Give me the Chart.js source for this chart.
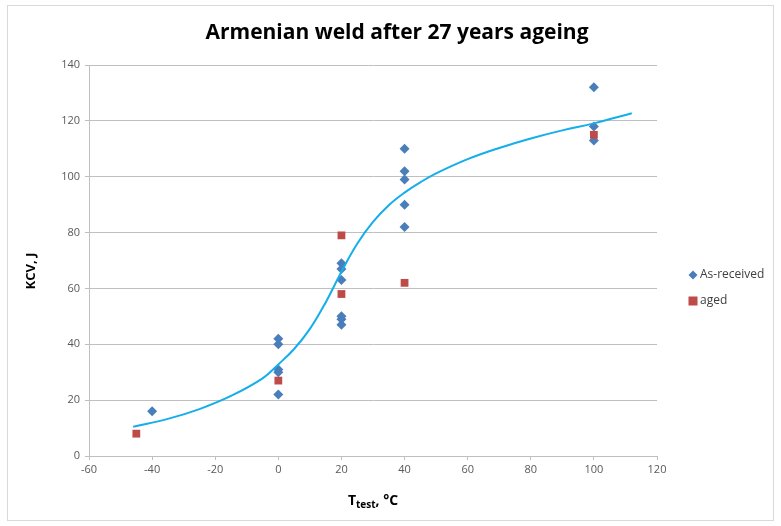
<!DOCTYPE html>
<html>
<head>
<meta charset="utf-8">
<script src="https://cdn.jsdelivr.net/npm/chart.js@4/dist/chart.umd.min.js"></script>
<style>
  html, body { margin: 0; padding: 0; background: #ffffff; }
  #wrap { width: 781px; height: 526px; }
</style>
</head>
<body>
<div id="wrap"><canvas id="c" width="781" height="526"></canvas></div>
<script>
// Charpy impact energy of the weld metal versus test temperature
const asReceivedT   = [-40, 0, 0, 0, 0, 0, 20, 20, 20, 20, 20, 20, 40, 40, 40, 40, 40, 100, 100, 100];
const asReceivedKCV = [16, 42, 40, 31, 30, 22, 69, 67, 63, 50, 49, 47, 110, 102, 99, 90, 82, 132, 118, 113];

const agedT   = [-45, 0, 20, 20, 40, 100];
const agedKCV = [8, 27, 79, 58, 62, 115];

// Transition curve fitted through both data sets
const curveT   = [-46, -35, -25, -15, -5, 0, 5, 10, 15, 20, 25, 30, 35, 40, 45, 50, 60, 70, 80, 90, 100, 112];
const curveKCV = [10.5, 13.3, 16.8, 21.5, 27.8, 32.8, 38.3, 45.5, 55, 66, 76, 83.8, 89.8, 94.3, 98, 101.2, 106.3, 110.3, 113.7, 116.6, 119.1, 122.7];

const xTicks = [-60, -40, -20, 0, 20, 40, 60, 80, 100, 120];
const yTicks = [0, 20, 40, 60, 80, 100, 120, 140];

const seriesNames = ['As-received', 'aged'];
const blue = '#4a7ebb';
const red = '#be4b48';
const curveColor = '#14aeea';

const toPts = (xs, ys) => xs.map((x, i) => ({ x: x, y: ys[i] }));

const FONT = "'Open Sans', 'Liberation Sans', sans-serif";

// Frame, title, legend and axis titles
const decor = {
  id: 'decor',
  beforeDraw(chart) {
    const ctx = chart.ctx;
    ctx.save();
    ctx.fillStyle = '#ffffff';
    ctx.fillRect(0, 0, chart.width, chart.height);
    ctx.strokeStyle = '#d9d9d9';
    ctx.lineWidth = 1;
    ctx.strokeRect(7.5, 5.5, 766, 515);
    ctx.restore();
  },
  afterDraw(chart) {
    const ctx = chart.ctx;
    const area = chart.chartArea;
    ctx.save();
    // title
    ctx.fillStyle = '#000000';
    ctx.font = "bold 21px " + FONT;
    ctx.textAlign = 'center';
    ctx.textBaseline = 'middle';
    ctx.fillText('Armenian weld after 27 years ageing', 397, 33);

    // y axis title
    ctx.save();
    ctx.translate(31, 271);
    ctx.rotate(-Math.PI / 2);
    ctx.font = "bold 13px " + FONT;
    ctx.fillText('KCV, J', 0, 0);
    ctx.restore();

    // x axis title with subscript
    ctx.textAlign = 'left';
    ctx.textBaseline = 'alphabetic';
    const mainFont = "bold 14px " + FONT;
    const subFont = "bold 10px " + FONT;
    ctx.font = mainFont;
    const wT = ctx.measureText('T').width;
    ctx.font = subFont;
    const wSub = ctx.measureText('test').width;
    ctx.font = mainFont;
    const wRest = ctx.measureText(', °C').width;
    const total = wT + wSub + wRest;
    let x0 = (area.left + area.right) / 2 - total / 2;
    const base = 505;
    ctx.fillText('T', x0, base);
    ctx.font = subFont;
    ctx.fillText('test', x0 + wT, base + 3);
    ctx.font = mainFont;
    ctx.fillText(', °C', x0 + wT + wSub, base);

    // legend
    const items = [
      { text: seriesNames[0], color: blue, shape: 'diamond', y: 275 },
      { text: seriesNames[1], color: red, shape: 'square', y: 301 }
    ];
    ctx.font = "12px " + FONT;
    ctx.textBaseline = 'middle';
    items.forEach(it => {
      ctx.fillStyle = it.color;
      const cx = 693;
      if (it.shape === 'diamond') {
        ctx.beginPath();
        ctx.moveTo(cx, it.y - 4.5);
        ctx.lineTo(cx + 4.5, it.y);
        ctx.lineTo(cx, it.y + 4.5);
        ctx.lineTo(cx - 4.5, it.y);
        ctx.closePath();
        ctx.fill();
      } else {
        ctx.fillRect(cx - 4.5, it.y - 4.5, 9, 9);
      }
      ctx.fillStyle = '#404040';
      ctx.fillText(it.text, 700, it.y);
    });
    ctx.restore();
  }
};

new Chart(document.getElementById('c'), {
  type: 'scatter',
  data: {
    datasets: [
      {
        type: 'line',
        label: 'fit',
        data: toPts(curveT, curveKCV),
        borderColor: curveColor,
        borderWidth: 2,
        pointRadius: 0,
        fill: false,
        tension: 0.4,
        order: 0
      },
      {
        label: seriesNames[1],
        data: toPts(agedT, agedKCV),
        backgroundColor: red,
        borderColor: red,
        pointStyle: 'rect',
        pointRadius: 5.5,
        pointBorderWidth: 0,
        order: 1
      },
      {
        label: seriesNames[0],
        data: toPts(asReceivedT, asReceivedKCV),
        backgroundColor: blue,
        borderColor: blue,
        pointStyle: 'rectRot',
        pointRadius: 5,
        pointBorderWidth: 0,
        order: 2
      }
    ]
  },
  options: {
    responsive: false,
    animation: false,
    devicePixelRatio: 1,
    layout: { padding: { left: 0, top: 65, right: 124, bottom: 0 } },
    plugins: {
      legend: { display: false },
      title: { display: false },
      tooltip: { enabled: false }
    },
    scales: {
      x: {
        type: 'linear',
        min: -60,
        max: 120,
        afterBuildTicks(scale) { scale.ticks = xTicks.map(v => ({ value: v })); },
        afterFit(scale) { scale.height = 70; },
        ticks: { color: '#595959', font: { size: 11, family: FONT }, padding: 3 },
        grid: { drawOnChartArea: false, color: '#bfbfbf', tickLength: 4 },
        border: { color: '#bfbfbf' }
      },
      y: {
        type: 'linear',
        min: 0,
        max: 140,
        afterBuildTicks(scale) { scale.ticks = yTicks.map(v => ({ value: v })); },
        afterFit(scale) { scale.width = 89; },
        ticks: { color: '#595959', font: { size: 11, family: FONT }, padding: 5 },
        grid: { color: '#bfbfbf', tickLength: 4 },
        border: { color: '#bfbfbf' }
      }
    }
  },
  plugins: [decor]
});
</script>
</body>
</html>
